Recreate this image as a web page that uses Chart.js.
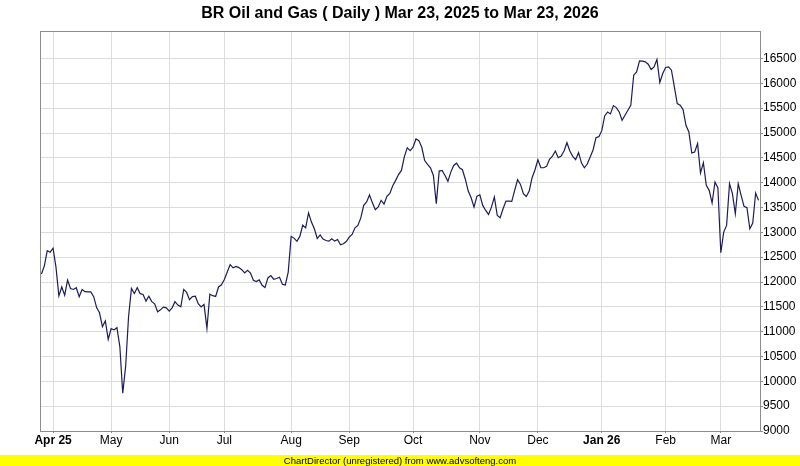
<!DOCTYPE html>
<html><head><meta charset="utf-8">
<script src="https://cdn.jsdelivr.net/npm/chart.js@4.4.1/dist/chart.umd.min.js"></script>
<style>html,body{margin:0;padding:0;background:#fff}#wrap{width:800px;height:466px;position:relative}</style>
</head><body><div id="wrap"><canvas id="c" width="800" height="466"></canvas></div>
<script>
const titleText = "BR Oil and Gas ( Daily ) Mar 23, 2025 to Mar 23, 2026";
const footerText = "ChartDirector (unregistered) from www.advsofteng.com";
const monthLabels = ["Apr 25","May","Jun","Jul","Aug","Sep","Oct","Nov","Dec","Jan 26","Feb","Mar"];
const monthStartIndex = [4,24,44,63,86,106,128,151,171,193,215,234];
const yTickValues = [9000,9500,10000,10500,11000,11500,12000,12500,13000,13500,14000,14500,15000,15500,16000,16500];
const closes = [
12160,12325,12630,12600,12680,12300,11720,11900,11735,12040,
11870,11850,11885,11705,11850,11805,11800,11800,11705,11485,
11380,11100,11215,10845,11060,11035,11080,10700,9760,10300,
11300,11870,11770,11885,11765,11750,11615,11715,11605,11560,
11400,11440,11495,11480,11415,11480,11605,11535,11500,11850,
11790,11645,11705,11715,11565,11500,11550,11065,11755,11725,
11710,11900,11945,12050,12200,12352,12285,12315,12290,12248,
12183,12235,12180,12035,12008,12042,11935,11888,12082,12130,
12056,12070,12096,11955,11941,12200,12918,12884,12820,12918,
13146,13090,13392,13207,13072,12877,12948,12863,12836,12823,
12870,12823,12856,12749,12769,12816,12903,12957,13092,13138,
13292,13544,13611,13752,13594,13456,13510,13644,13570,13724,
13785,13938,14046,14163,14246,14526,14700,14646,14713,14880,
14847,14713,14446,14370,14300,14146,13579,14233,14246,14146,
14026,14213,14346,14393,14300,14261,14070,13831,13696,13508,
13730,13757,13542,13441,13360,13508,13710,13340,13293,13475,
13629,13629,13622,13844,14059,13965,13777,13723,13831,14100,
14261,14462,14301,14301,14328,14469,14536,14637,14503,14536,
14637,14805,14637,14530,14462,14604,14400,14300,14375,14517,
14658,14906,14926,15047,15345,15424,15385,15552,15512,15425,
15257,15358,15458,15559,16164,16231,16453,16446,16433,16386,
16278,16332,16480,16016,16198,16319,16332,16265,15929,15593,
15559,15472,15156,15022,14598,14618,14786,14195,14403,13946,
13846,13590,14013,13893,12589,13006,13140,13980,13778,13375,
13980,13745,13523,13496,13073,13187,13792,13644
];

const FONT = "'Liberation Sans', Arial, sans-serif";

const framePlugin = {
  id: 'frame',
  beforeDraw(chart) {
    const ctx = chart.ctx;
    ctx.save();
    ctx.fillStyle = '#ffffff';
    ctx.fillRect(0, 0, chart.width, chart.height);
    ctx.fillStyle = '#ffff00';
    ctx.fillRect(0, 455, chart.width, 11);
    ctx.fillStyle = '#000000';
    ctx.font = "9.5px " + FONT;
    ctx.textAlign = 'center';
    ctx.textBaseline = 'middle';
    ctx.fillText(footerText, chart.width / 2, 461);
    ctx.restore();
  },
  afterDatasetsDraw(chart) {
    const a = chart.chartArea, ctx = chart.ctx;
    ctx.save();
    ctx.strokeStyle = '#8c8c8c';
    ctx.lineWidth = 1;
    ctx.strokeRect(Math.round(a.left) + 0.5, Math.round(a.top) + 0.5, Math.round(a.right - a.left), Math.round(a.bottom - a.top));
    ctx.restore();
  }
};

new Chart(document.getElementById('c'), {
  type: 'line',
  data: {
    datasets: [{
      data: closes.map((v, i) => ({ x: i, y: v })),
      borderColor: '#1c1c5a',
      borderWidth: 1.2,
      pointRadius: 0,
      tension: 0,
      fill: false
    }]
  },
  options: {
    responsive: false,
    animation: false,
    devicePixelRatio: 1,
    layout: { padding: { left: 0, right: 0, top: 0, bottom: 11 } },
    plugins: {
      legend: { display: false },
      tooltip: { enabled: false },
      title: {
        display: true,
        text: titleText,
        color: '#000',
        font: { family: FONT, size: 16, weight: 'bold' },
        padding: { top: 4, bottom: 8 }
      }
    },
    scales: {
      x: {
        type: 'linear',
        min: -0.5,
        max: closes.length - 0.5,
        afterBuildTicks: s => { s.ticks = monthStartIndex.map(v => ({ value: v })); },
        afterFit: s => { s.height = 24; },
        ticks: {
          autoSkip: false,
          maxRotation: 0,
          color: '#000',
          padding: 0,
          font: c => ({ family: FONT, size: 12, weight: /\d/.test(monthLabels[c.index] || '') ? 'bold' : 'normal' }),
          callback: v => { const k = monthStartIndex.indexOf(v); return k >= 0 ? monthLabels[k] : ''; }
        },
        grid: { color: '#dcdcdc', lineWidth: 1, tickLength: 2, tickColor: '#8c8c8c' },
        border: { display: false }
      },
      y: {
        position: 'right',
        min: 9000,
        max: 17050,
        afterBuildTicks: s => { s.ticks = yTickValues.map(v => ({ value: v })); },
        afterFit: s => { s.width = 40; },
        ticks: {
          color: '#000',
          padding: 0,
          font: { family: FONT, size: 12 },
          callback: v => String(v)
        },
        grid: { color: '#dcdcdc', lineWidth: 1, tickLength: 3, tickColor: '#8c8c8c' },
        border: { display: false }
      },
      leftSpace: {
        type: 'linear',
        position: 'left',
        display: true,
        min: 9000,
        max: 17050,
        afterFit: s => { s.width = 40; },
        ticks: { display: false },
        grid: { display: false, drawTicks: false },
        border: { display: false }
      }
    }
  },
  plugins: [framePlugin]
});
</script>
</body></html>
